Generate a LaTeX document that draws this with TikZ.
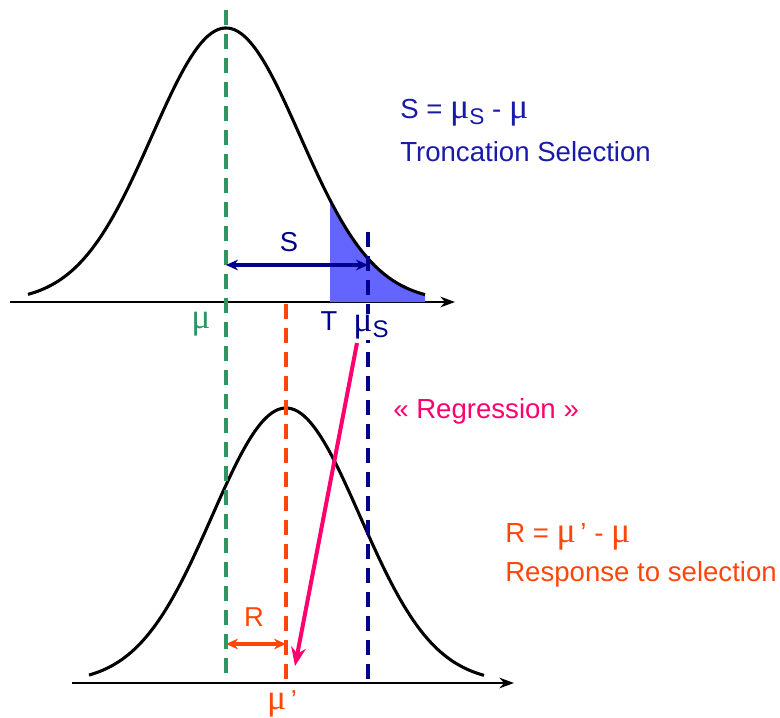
\documentclass[tikz,border=0pt]{standalone}
\usepackage{fontspec}
\setmainfont{Liberation Sans}
\newfontfamily\greekfont[Scale=1.3]{Liberation Serif}
\usepackage{tikz}
\usetikzlibrary{calc, positioning, arrows.meta}
\usepackage{xcolor}

\definecolor{meangreen}{RGB}{45,150,100}
\definecolor{selnavy}{RGB}{0,0,140}
\definecolor{textnavy}{RGB}{25,25,170}
\definecolor{tailblue}{RGB}{100,100,255}
\definecolor{respred}{RGB}{255,70,10}
\definecolor{regpink}{RGB}{255,0,110}

\newcommand{\mug}{{\greekfont μ}}
\newcommand{\subS}[1]{\raisebox{-0.4ex}{\fontsize{#1}{#1}\selectfont S}}

\begin{document}
\begin{tikzpicture}[
    x=0.75pt, y=-0.75pt,
    font=\fontsize{20.5}{24}\selectfont,
    curve/.style={line width=2.3pt, black},
    axis/.style={line width=1.4pt, black, -{Stealth[length=11pt, width=8pt]}},
    vline/.style={line width=3pt, dash pattern=on 11pt off 7pt},
    gap/.style={line width=2.4pt, {Stealth[length=9pt, width=8pt]}-{Stealth[length=9pt, width=8pt]}},
    lbl/.style={inner sep=1pt},
    txt/.style={anchor=west, inner sep=0pt, font=\fontsize{20.7}{24}\selectfont},
]
\useasboundingbox (0,0) rectangle (780,717);

% ── Top distribution (parents) ───────────────────────────────
\coordinate (ax1s) at (10,302);
\coordinate (ax1e) at (455,302);
\draw[axis] (ax1s) -- (ax1e);

\fill[tailblue] (330,302) -- plot[domain=330:425, samples=40]
    (\x, {302-274*exp(-0.5*((\x-226)/74)^2)}) -- (425,302) -- cycle;
\draw[curve] plot[domain=28:425, samples=120, smooth]
    (\x, {302-274*exp(-0.5*((\x-226)/74)^2)});

% ── Bottom distribution (offspring) ──────────────────────────
\coordinate (ax2s) at (72,683);
\coordinate (ax2e) at (514,683);
\draw[axis] (ax2s) -- (ax2e);
\draw[curve] plot[domain=89:484, samples=120, smooth]
    (\x, {683-275*exp(-0.5*((\x-286)/74)^2)});

% ── Means ────────────────────────────────────────────────────
\coordinate (mutop) at (226,10);
\coordinate (mubot) at (226,681);
\coordinate (mustop) at (368,232);
\coordinate (musbot) at (368,681);
\coordinate (murtop) at (286,304);
\coordinate (murbot) at (286,681);

\draw[vline, meangreen] (mutop) -- (mubot);
\draw[vline, respred] (murtop) -- (murbot);
\draw[vline, selnavy] (mustop) -- (musbot);

% ── Labels on the axes ───────────────────────────────────────
\node[lbl, meangreen] (mulbl) at (201,324) {\mug};
\node[lbl, selnavy, fill=white] (Tlbl) at (329,321) {T};
\node[lbl, selnavy, fill=white] (muslbl) at (371,327) {\mug\subS{18}};
\node[lbl, respred] (murlbl) at (282,704) {\mug\,’};

% ── Differentials ────────────────────────────────────────────
\coordinate (sl) at (226,265);
\coordinate (sr) at (368,265);
\draw[gap, selnavy] (sl) -- (sr);
\node[lbl, selnavy] (Slbl) at (289,242) {S};

\coordinate (rl) at (226,644);
\coordinate (rr) at (286,644);
\draw[gap, respred] (rl) -- (rr);
\node[lbl, respred] (Rlbl) at (254,617) {R};

% ── Regression arrow ─────────────────────────────────────────
\coordinate (regs) at (357,343);
\coordinate (rege) at (295,666);
\draw[line width=3pt, regpink, -{Stealth[length=14pt, width=11pt]}] (regs) -- (rege);

% ── Text ─────────────────────────────────────────────────────
\node[txt, textnavy] (seleq) at (400,113) {S = \mug\subS{17} - \mug};
\node[txt, textnavy] (selname) at (400,152) {Troncation Selection};
\node[txt, regpink] (regname) at (393,411) {« Regression »};
\node[txt, respred] (respeq) at (505,537) {R = \mug\,’ - \mug};
\node[txt, respred] (respname) at (505,574) {Response to selection};

\end{tikzpicture}
\end{document}
